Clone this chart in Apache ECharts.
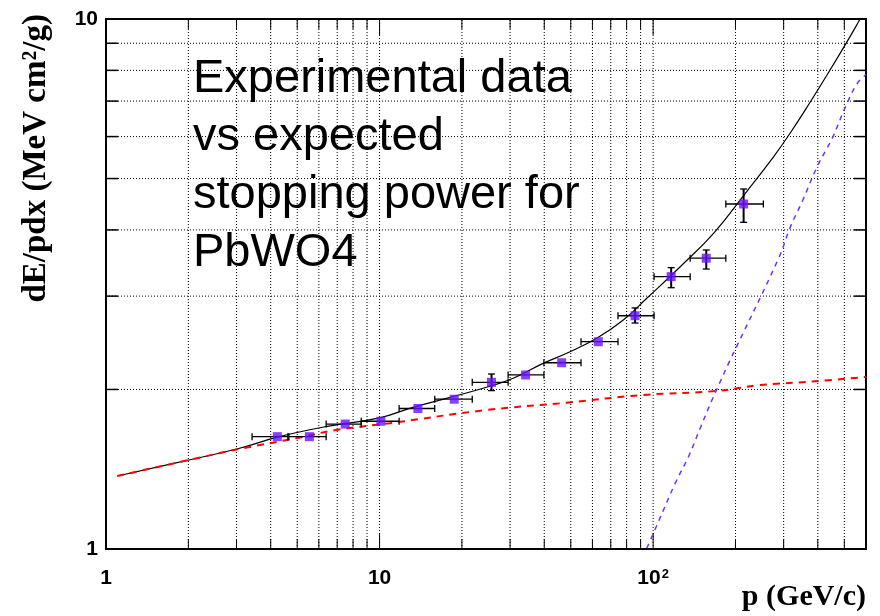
<!DOCTYPE html>
<html><head><meta charset="utf-8">
<script src="https://cdn.jsdelivr.net/npm/echarts@6/dist/echarts.min.js"></script>
<style>html,body{margin:0;padding:0;background:#fff}#c{width:880px;height:616px}</style>
</head><body><div id="c"></div>
<script>
// ---- measured data points (p in GeV/c, dE/rho dx in MeV cm2/g)
const pData   = [4.23, 5.54, 7.49, 10.11, 13.81, 18.75, 25.66, 34.18, 46.3, 63.05, 85.9, 116.4, 156.4, 214.2];
const pLow    = [3.42, 4.66, 6.38, 8.57, 11.79, 15.91, 21.82, 29.51, 39.88, 54.5, 74.4, 100.8, 136.6, 184.4];
const pHigh   = [4.62, 6.38, 8.57, 11.79, 15.91, 21.82, 29.51, 39.88, 54.5, 74.4, 100.8, 136.6, 184.4, 252.9];
const dEData  = [1.629, 1.629, 1.721, 1.742, 1.841, 1.917, 2.063, 2.130, 2.246, 2.461, 2.755, 3.265, 3.537, 4.477];
const dELow   = [1.615, 1.615, 1.707, 1.728, 1.827, 1.903, 1.990, 2.112, 2.228, 2.443, 2.669, 3.112, 3.375, 4.134];
const dEHigh  = [1.643, 1.643, 1.735, 1.756, 1.855, 1.931, 2.139, 2.148, 2.264, 2.479, 2.850, 3.395, 3.666, 4.778];

// ---- expected total stopping power (black)
const totalP  = [1.10, 2.01, 3.03, 4.30, 6.38, 10.0, 13.24, 17.55, 24.6, 30.8, 39.6, 48.3, 62.2, 77.8, 94.8, 125.6, 166.3, 217.3, 275.9, 317.6, 375.8, 432.8, 497.9, 564.9, 580];
const totalDE = [1.373, 1.472, 1.546, 1.629, 1.702, 1.768, 1.850, 1.924, 2.019, 2.100, 2.240, 2.340, 2.498, 2.704, 2.972, 3.409, 3.941, 4.690, 5.50, 6.10, 6.98, 7.85, 8.85, 9.90, 10.15];

// ---- ionisation part (red dashed)
const ionP    = [1.10, 2.01, 3.03, 4.95, 6.94, 10.88, 24.6, 48.3, 91.9, 171.1, 246.6, 375.8, 600];
const ionDE   = [1.373, 1.472, 1.542, 1.618, 1.677, 1.727, 1.829, 1.888, 1.953, 1.987, 2.039, 2.069, 2.112];

// ---- radiative part (blue dashed)
const radP    = [94.8, 104.6, 120.4, 134.7, 148.6, 164.1, 176.0, 188.7, 287.7, 317.6, 350.5, 397.9, 451.5, 505.0, 557.5, 600];
const radDE   = [1.003, 1.126, 1.330, 1.494, 1.690, 1.910, 2.069, 2.240, 3.537, 4.056, 4.521, 5.265, 5.956, 6.831, 7.561, 7.85];

// ---- axis ticks / grid positions
const xGridVals = [2,3,4,5,6,7,8,9,10,20,30,40,50,60,70,80,90,100,200,300,400,500];
const yGridVals = [2,3,4,5,6,7,8,9];
const xMajor = [10, 100];

const chart = echarts.init(document.getElementById('c'), null, {renderer: 'canvas'});

const gridSeriesX = {
  type: 'custom', silent: true, z: 1, clip: true,
  data: xGridVals.map(v => [v]),
  renderItem: function (params, api) {
    const v = api.value(0);
    const x = api.coord([v, 1])[0];
    const yb = api.coord([v, 1])[1];
    const yt = api.coord([v, 10])[1];
    const len = xMajor.indexOf(v) >= 0 ? 16 : 10;
    return {type: 'group', children: [
      {type: 'line', shape: {x1: x, y1: yb, x2: x, y2: yt}, style: {stroke: '#000', lineWidth: 1, lineDash: [1, 2]}},
      {type: 'line', shape: {x1: x, y1: yb, x2: x, y2: yb - len}, style: {stroke: '#000', lineWidth: 1}},
      {type: 'line', shape: {x1: x, y1: yt, x2: x, y2: yt + len}, style: {stroke: '#000', lineWidth: 1}}
    ]};
  }
};
const gridSeriesY = {
  type: 'custom', silent: true, z: 1, clip: true,
  data: yGridVals.map(v => [1, v]),
  renderItem: function (params, api) {
    const v = api.value(1);
    const y = api.coord([1, v])[1];
    const xl = api.coord([1, v])[0];
    const xr = api.coord([600, v])[0];
    return {type: 'group', children: [
      {type: 'line', shape: {x1: xl, y1: y, x2: xr, y2: y}, style: {stroke: '#000', lineWidth: 1, lineDash: [1, 2]}},
      {type: 'line', shape: {x1: xl, y1: y, x2: xl + 12, y2: y}, style: {stroke: '#000', lineWidth: 1.5}},
      {type: 'line', shape: {x1: xr, y1: y, x2: xr - 12, y2: y}, style: {stroke: '#000', lineWidth: 1.5}}
    ]};
  }
};

const errData = pData.map((p, i) => [p, dEData[i], pLow[i], pHigh[i], dELow[i], dEHigh[i]]);
const errSeries = {
  type: 'custom', z: 5,
  data: errData,
  renderItem: function (params, api) {
    const c = api.coord([api.value(0), api.value(1)]);
    const l = api.coord([api.value(2), api.value(1)]);
    const r = api.coord([api.value(3), api.value(1)]);
    const lo = api.coord([api.value(0), api.value(4)]);
    const hi = api.coord([api.value(0), api.value(5)]);
    const cap = 3.5;
    const st = {stroke: '#000', lineWidth: 1.3};
    const ch = [
      {type: 'line', shape: {x1: l[0], y1: c[1], x2: r[0], y2: c[1]}, style: st},
      {type: 'line', shape: {x1: l[0], y1: c[1] - cap, x2: l[0], y2: c[1] + cap}, style: st},
      {type: 'line', shape: {x1: r[0], y1: c[1] - cap, x2: r[0], y2: c[1] + cap}, style: st}
    ];
    if (lo[1] - hi[1] > 10) {
      const sv = {stroke: '#000', lineWidth: 2};
      ch.push({type: 'line', shape: {x1: c[0], y1: lo[1], x2: c[0], y2: hi[1]}, style: sv});
      ch.push({type: 'line', shape: {x1: c[0] - cap, y1: lo[1], x2: c[0] + cap, y2: lo[1]}, style: st});
      ch.push({type: 'line', shape: {x1: c[0] - cap, y1: hi[1], x2: c[0] + cap, y2: hi[1]}, style: st});
    }
    return {type: 'group', children: ch};
  }
};

const option = {
  animation: false,
  backgroundColor: '#fff',
  grid: {left: 106, right: 14, top: 19, bottom: 67, show: true, borderColor: '#000', borderWidth: 2, backgroundColor: 'transparent'},
  xAxis: {
    type: 'log', logBase: 10, min: 1, max: 600,
    axisLine: {show: true, lineStyle: {color: '#000', width: 2}},
    axisTick: {show: false},
    splitLine: {show: false},
    axisLabel: {
      color: '#000', fontFamily: 'Liberation Sans', fontWeight: 'bold', fontSize: 21, margin: 19,
      formatter: function (v) { return v === 100 ? '{a|10}{s|2}' : '{a|' + v + '}'; },
      rich: {
        a: {fontFamily: 'Liberation Sans', fontWeight: 'bold', fontSize: 21, color: '#000'},
        s: {fontFamily: 'Liberation Sans', fontWeight: 'bold', fontSize: 13, color: '#000', verticalAlign: 'top', padding: [0, 0, 0, 1]}
      },
      showMaxLabel: false
    }
  },
  yAxis: {
    type: 'log', logBase: 10, min: 1, max: 10,
    axisLine: {show: true, lineStyle: {color: '#000', width: 2}},
    axisTick: {show: false},
    splitLine: {show: false},
    axisLabel: {color: '#000', fontFamily: 'Liberation Sans', fontWeight: 'bold', fontSize: 21, margin: 8}
  },
  series: [
    gridSeriesX, gridSeriesY,
    {type: 'line', z: 3, data: totalP.map((p, i) => [p, totalDE[i]]), showSymbol: false, smooth: 0.45,
      lineStyle: {color: '#000', width: 1.2}},
    {type: 'line', z: 4, data: ionP.map((p, i) => [p, ionDE[i]]), showSymbol: false, smooth: 0.4,
      lineStyle: {color: '#ff0000', width: 2, type: [7, 6]}},
    {type: 'line', z: 4, data: radP.map((p, i) => [p, radDE[i]]), showSymbol: false, smooth: 0.4,
      lineStyle: {color: '#7030ff', width: 1.5, type: [5, 5]}},
    errSeries,
    {type: 'scatter', z: 6, data: pData.map((p, i) => [p, dEData[i]]), symbol: 'rect', symbolSize: 9,
      itemStyle: {color: '#6a10ff'}}
  ],
  graphic: [
    {type: 'text', left: 193, top: 50, z: 10, style: {
      text: 'Experimental data\nvs expected\nstopping power for\nPbWO4',
      font: '47px "Liberation Sans"', fill: '#000', lineHeight: 58}},
    {type: 'text', x: 866, y: 597, z: 10, style: {
      text: 'p (GeV/c)', font: 'bold 30px "Liberation Serif"', fill: '#000',
      textAlign: 'right', textVerticalAlign: 'middle'}},
    {type: 'text', x: 36, y: 14, rotation: Math.PI / 2, z: 10, style: {
      text: 'dE/pdx (MeV cm²/g)', font: 'bold 33px "Liberation Serif"', fill: '#000',
      textAlign: 'right', textVerticalAlign: 'middle'}}
  ]
};
chart.setOption(option);
</script></body></html>
